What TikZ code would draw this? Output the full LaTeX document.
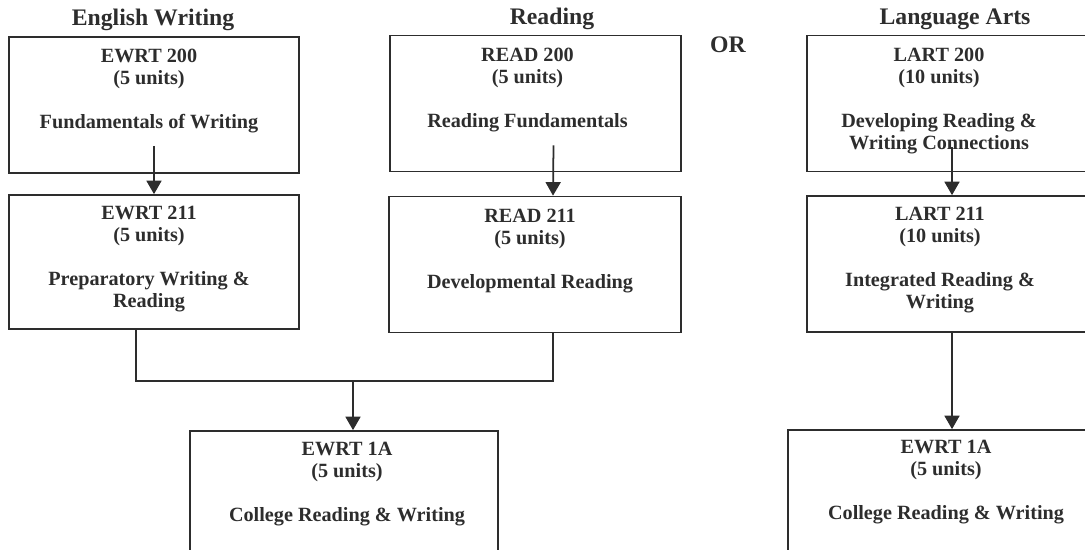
\documentclass[tikz,border=0pt]{standalone}
\usepackage{fontspec}
\setmainfont{Liberation Serif}
\usepackage{tikz}
\usetikzlibrary{arrows.meta,positioning}
\definecolor{inkgray}{RGB}{45,45,45}

\tikzset{
  course/.style={draw=inkgray, line width=1pt, minimum width=5.8cm,
    minimum height=2.72cm, inner sep=0pt},
  coursetext/.style={font=\fontsize{11.5}{12.5}\selectfont\bfseries,
    align=center, inner sep=0pt, text=inkgray},
  heading/.style={font=\fontsize{13.5}{15}\selectfont\bfseries, text=inkgray},
  link/.style={draw=inkgray, line width=1pt},
  flow/.style={link, -{Triangle[length=2.7mm, width=3mm]}}
}

\begin{document}
\begin{tikzpicture}[x=0.02cm, y=-0.02cm]
\useasboundingbox (0,0) rectangle (1085,549);
\clip (0,0) rectangle (1085,549);

% column headings
\node[heading] (hewrt) at (153,20) {English Writing};
\node[heading] (hread) at (552,19) {Reading};
\node[heading] (hlart) at (955,19) {Language Arts};
\node[heading] (or) at (728,45) {OR};

% first row
\node[course] (ewrt200) at (154,105) {};
\node[coursetext, below=0.26cm of ewrt200.north, xshift=-0.1cm]
  {EWRT 200\\(5 units)\\[12.5pt]Fundamentals of Writing};
\node[course, minimum width=5.82cm] (read200) at (535.5,103.5) {};
\node[coursetext, below=0.26cm of read200.north, xshift=-0.16cm]
  {READ 200\\(5 units)\\[12.5pt]Reading Fundamentals};
\node[course] (lart200) at (952,103.5) {};
\node[coursetext, below=0.26cm of lart200.north, xshift=-0.26cm]
  {LART 200\\(10 units)\\[12.5pt]Developing Reading \&\\Writing Connections};

% second row
\node[course, minimum height=2.68cm] (ewrt211) at (154,262) {};
\node[coursetext, below=0.24cm of ewrt211.north, xshift=-0.1cm]
  {EWRT 211\\(5 units)\\[12.5pt]Preparatory Writing \&\\Reading};
\node[course, minimum width=5.84cm] (read211) at (535,264.5) {};
\node[coursetext, below=0.26cm of read211.north, xshift=-0.1cm]
  {READ 211\\(5 units)\\[12.5pt]Developmental Reading};
\node[course] (lart211) at (952,264) {};
\node[coursetext, below=0.24cm of lart211.north, xshift=-0.24cm]
  {LART 211\\(10 units)\\[12.5pt]Integrated Reading \&\\Writing};

% target courses
\node[course, minimum width=6.16cm] (ewrt1a) at (344,499) {};
\node[coursetext, below=0.24cm of ewrt1a.north, xshift=0.06cm]
  {EWRT 1A\\(5 units)\\[12.5pt]College Reading \& Writing};
\node[course, minimum width=6.16cm] (ewrt1b) at (942,498) {};
\node[coursetext, below=0.22cm of ewrt1b.north, xshift=0.08cm]
  {EWRT 1A\\(5 units)\\[12.5pt]College Reading \& Writing};

% connectors (the upper arrows start inside the box above)
\coordinate (join) at (353,381);
\draw[flow] ([yshift=0.56cm]ewrt200.south) -- (ewrt211.north);
\draw[flow] ([xshift=0.36cm, yshift=0.54cm]read200.south) -- ([xshift=0.36cm]read211.north);
\draw[flow] ([yshift=0.5cm]lart200.south) -- (lart211.north);
\draw[link] ([xshift=-0.36cm]ewrt211.south) |- ([xshift=0.36cm]read211.south |- join)
  -- ([xshift=0.36cm]read211.south);
\draw[flow] (join) -- (join |- ewrt1a.north);
\draw[flow] (lart211.south) -- (lart211.south |- ewrt1b.north);
\end{tikzpicture}
\end{document}
